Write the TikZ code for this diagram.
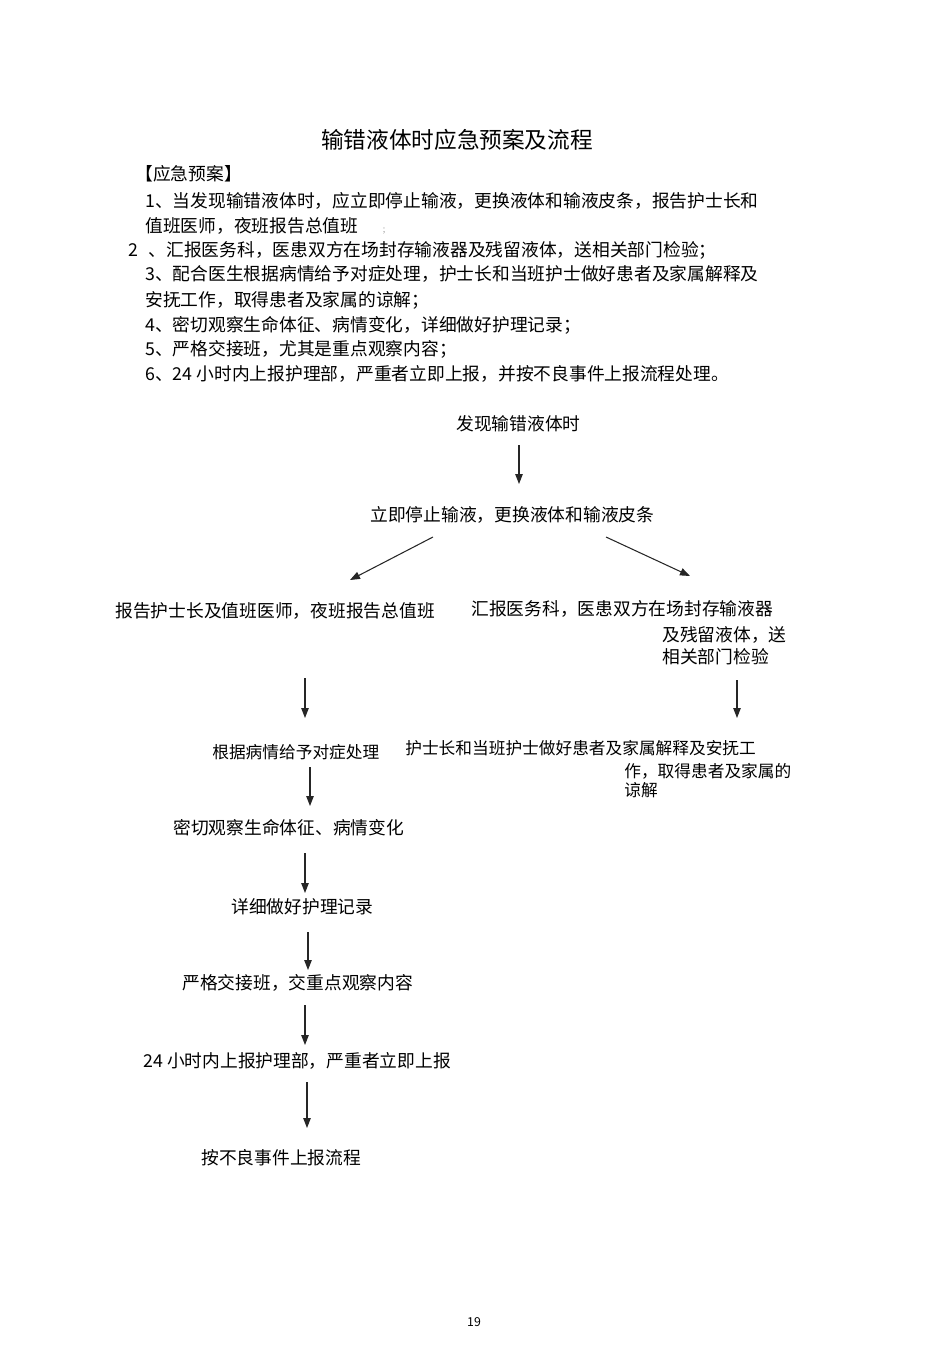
\documentclass[tikz,border=0pt]{standalone}
\usepackage{fontspec}
\newfontfamily\cjk{Noto Sans CJK SC}
\usetikzlibrary{arrows.meta,calc}

\begin{document}
\begin{tikzpicture}[x=0.02cm,y=-0.02cm,
  every node/.style={font=\cjk\fontsize{10.1}{12}\selectfont,inner sep=0pt,anchor=west,text height=10.6pt,text depth=2pt},
  t/.style={font=\cjk\fontsize{12.9}{15}\selectfont,anchor=center},
  sm/.style={font=\cjk\fontsize{9.5}{11}\selectfont},
  a/.style={-{Triangle[length=2mm,width=1.5mm]},draw=black!85,line width=0.6pt}]
  \useasboundingbox (0,0) rectangle (950,1345);
  % plan text
  \node[t] (title) at (457,141) {输错液体时应急预案及流程};
  \node (head) at (135,173) {【应急预案】};
  \node (p1) at (145,200) {1、当发现输错液体时，应立即停止输液，更换液体和输液皮条，报告护士长和};
  \node (p1b) at (145,225) {值班医师，夜班报告总值班\hspace{14pt}{\color{black!40}\fontsize{5}{6}\selectfont ;}};
  \node (p2) at (128,249) {2\hspace{6pt}、汇报医务科，医患双方在场封存输液器及残留液体，送相关部门检验；};
  \node (p3) at (145,273) {3、配合医生根据病情给予对症处理，护士长和当班护士做好患者及家属解释及};
  \node (p3b) at (145,299) {安抚工作，取得患者及家属的谅解；};
  \node (p4) at (145,324) {4、密切观察生命体征、病情变化，详细做好护理记录；};
  \node (p5) at (145,348) {5、严格交接班，尤其是重点观察内容；};
  \node (p6) at (145,373) {6、24 小时内上报护理部，严重者立即上报，并按不良事件上报流程处理。};
  % flow
  \node (n1) at (456,423) {发现输错液体时};
  \node (n2) at (370,514) {立即停止输液，更换液体和输液皮条};
  \node (n3) at (115,610) {报告护士长及值班医师，夜班报告总值班};
  \node (n4) at (471,608) {汇报医务科，医患双方在场封存输液器};
  \node (n4b) at (662,634) {及残留液体，送};
  \node (n4c) at (662,656) {相关部门检验};
  \node[sm] (n5) at (212,751) {根据病情给予对症处理};
  \node[sm] (n6) at (405,747) {护士长和当班护士做好患者及家属解释及安抚工};
  \node[sm] (n6b) at (624,770) {作，取得患者及家属的};
  \node[sm] (n6c) at (624,789) {谅解};
  \node (n7) at (173,827) {密切观察生命体征、病情变化};
  \node (n8) at (231,906) {详细做好护理记录};
  \node (n9) at (182,982) {严格交接班，交重点观察内容};
  \node (n10) at (143,1060) {24 小时内上报护理部，严重者立即上报};
  \node (n11) at (201,1157) {按不良事件上报流程};
  \node[font=\cjk\fontsize{7}{8}\selectfont,anchor=center,text height=5pt,text depth=0pt] (pg) at (474,1322) {19};
  \draw[a] ($(n1.west)+(63,22)$) -- ($(n2.west)+(149,-30)$);
  \draw[a] ($(n2.west)+(63,23)$) -- ($(n3.west)+(235,-30)$);
  \draw[a] ($(n2.west)+(236,23)$) -- ($(n4.west)+(219,-32)$);
  \draw[a] ($(n3.west)+(190,68)$) -- ($(n5.west)+(93,-33)$);
  \draw[a] ($(n4c.west)+(75,24)$) -- ($(n6.west)+(332,-29)$);
  \draw[a] ($(n5.west)+(98,16)$) -- ($(n7.west)+(137,-21)$);
  \draw[a] ($(n7.west)+(132,26)$) -- ($(n8.west)+(74,-13)$);
  \draw[a] ($(n8.west)+(77,26)$) -- ($(n9.west)+(126,-12)$);
  \draw[a] ($(n9.west)+(123,23)$) -- ($(n10.west)+(162,-15)$);
  \draw[a] ($(n10.west)+(164,22)$) -- ($(n11.west)+(106,-29)$);
\end{tikzpicture}
\end{document}
